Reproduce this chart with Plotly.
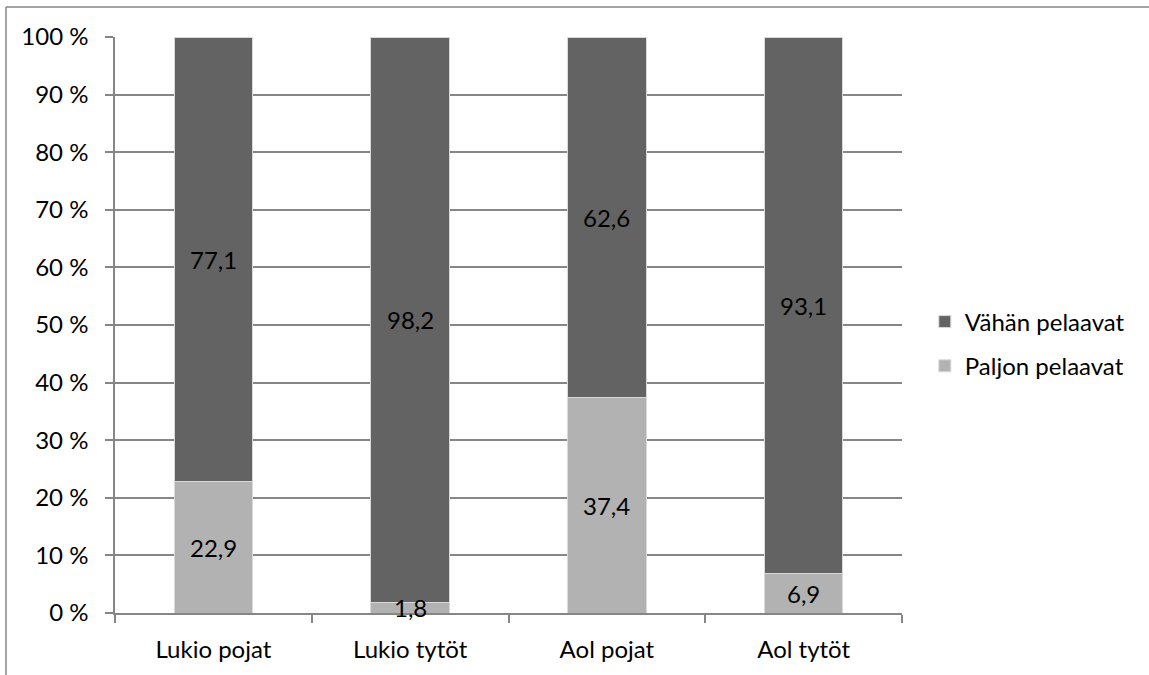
import plotly.graph_objects as go

categories = ["Lukio pojat", "Lukio tytöt", "Aol pojat", "Aol tytöt"]
paljon = [22.9, 1.8, 37.4, 6.9]
vahan = [77.1, 98.2, 62.6, 93.1]
y_ticks = list(range(0, 101, 10))
y_tick_text = [f"{v} %" for v in y_ticks]

DARK = "#636363"
LIGHT = "#b2b2b2"
GRID = "#868686"
FONT = dict(family="Lato, sans-serif", size=24, color="#000000")

W, H = 1149, 675
L, R, T, B = 115, 247, 37, 62
pw, ph = W - L - R, H - T - B


def fi(v):
    return f"{v:.1f}".replace(".", ",")


fig = go.Figure()
fig.add_trace(go.Bar(
    x=categories, y=paljon, name="Paljon pelaavat",
    marker=dict(color=LIGHT, line=dict(color="#d9d9d9", width=1)),
    width=0.4, hoverinfo="skip", legendgroup="b", legendrank=2,
))
fig.add_trace(go.Bar(
    x=categories, y=vahan, name="Vähän pelaavat",
    marker=dict(color=DARK, line=dict(color="#d9d9d9", width=1)),
    width=0.4, hoverinfo="skip", legendgroup="a", legendrank=1,
))

# value labels centred in each stacked segment
for c, p, v in zip(categories, paljon, vahan):
    fig.add_annotation(x=c, y=p / 2, text=fi(p), showarrow=False,
                       font=FONT, xref="x", yref="y")
    fig.add_annotation(x=c, y=p + v / 2, text=fi(v), showarrow=False,
                       font=FONT, xref="x", yref="y")

# outer chart frame (top and left edges)
fx0 = (6 - L) / pw
fy0 = (H - B - 7) / ph
fig.add_shape(type="line", xref="paper", yref="paper",
              x0=fx0, x1=(W - L) / pw, y0=fy0, y1=fy0,
              line=dict(color=GRID, width=1.5))
fig.add_shape(type="line", xref="paper", yref="paper",
              x0=fx0, x1=fx0, y0=fy0, y1=-B / ph,
              line=dict(color=GRID, width=1.5))

fig.update_layout(
    width=W, height=H,
    margin=dict(l=L, r=R, t=T, b=B),
    paper_bgcolor="white", plot_bgcolor="white",
    barmode="stack",
    font=FONT,
    showlegend=True,
    legend=dict(x=1.029, y=0.467, xanchor="left", yanchor="middle",
                traceorder="grouped", tracegroupgap=10,
                font=FONT, bgcolor="rgba(0,0,0,0)"),
    xaxis=dict(
        type="category", showgrid=False, tickson="boundaries",
        ticks="outside", ticklen=8, tickcolor=GRID, tickwidth=1.5,
        showline=True, linecolor=GRID, linewidth=1.5,
        tickfont=FONT, fixedrange=True, ticklabelstandoff=14,
    ),
    yaxis=dict(
        range=[0, 100], tickmode="array", tickvals=y_ticks, ticktext=y_tick_text,
        showgrid=True, gridcolor=GRID, gridwidth=1.5,
        ticks="outside", ticklen=8, tickcolor=GRID, tickwidth=1.5,
        showline=True, linecolor=GRID, linewidth=1.5,
        zeroline=False, tickfont=FONT, fixedrange=True, ticklabelstandoff=12,
    ),
)

fig.write_html("out.html")
